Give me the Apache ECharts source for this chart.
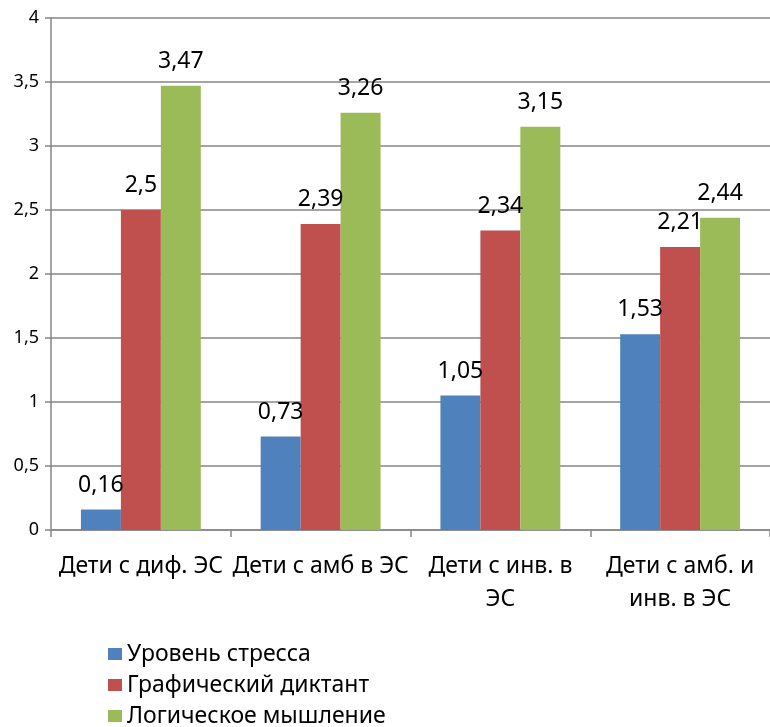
<!DOCTYPE html>
<html>
<head>
<meta charset="utf-8">
<script src="https://cdn.jsdelivr.net/npm/echarts@6/dist/echarts.min.js"></script>
<style>
html,body{margin:0;padding:0;background:#fff;}
#chart{width:770px;height:727px;}
</style>
</head>
<body>
<div id="chart"></div>
<script>
const categories = ['Дети с диф. ЭС', 'Дети с амб в ЭС', 'Дети с инв. в\nЭС', 'Дети с амб. и\nинв. в ЭС'];
const seriesNames = ['Уровень стресса', 'Графический диктант', 'Логическое мышление'];
const stress = [0.16, 0.73, 1.05, 1.53];
const dictation = [2.5, 2.39, 2.34, 2.21];
const logic = [3.47, 3.26, 3.15, 2.44];
const colors = ['#4F81BD', '#C0504D', '#9BBB59'];

const FONT = '"Noto Sans", sans-serif';
const fmt = v => String(v).replace('.', ',');

const chart = echarts.init(document.getElementById('chart'), null, {renderer: 'canvas'});
const mk = (name, data, color) => ({
  name: name,
  type: 'bar',
  data: data,
  barGap: '0%',
  barCategoryGap: '33.3%',
  itemStyle: {color: color},
  label: {
    show: true,
    position: 'top',
    distance: 13,
    fontFamily: FONT,
    fontSize: 23,
    color: '#000',
    formatter: p => fmt(p.value)
  }
});
chart.setOption({
  animation: false,
  backgroundColor: '#fff',
  textStyle: {fontFamily: FONT},
  grid: {left: 51, top: 18, width: 720, height: 512, containLabel: false},
  legend: {
    orient: 'vertical',
    left: 108,
    top: 642,
    height: 100,
    padding: 0,
    itemWidth: 14,
    itemHeight: 12,
    itemGap: 7,
    icon: 'rect',
    textStyle: {fontFamily: FONT, fontSize: 23, lineHeight: 24, color: '#000', padding: [0, 0, 0, 0]},
    data: seriesNames
  },
  xAxis: {
    type: 'category',
    data: categories,
    axisLine: {lineStyle: {color: '#868686', width: 1.5}},
    axisTick: {show: true, length: 7, lineStyle: {color: '#868686', width: 1.5}},
    axisLabel: {
      fontFamily: FONT,
      fontSize: 23,
      color: '#000',
      margin: 20,
      lineHeight: 33,
      interval: 0
    }
  },
  yAxis: {
    type: 'value',
    min: 0,
    max: 4,
    interval: 0.5,
    axisLine: {show: true, lineStyle: {color: '#868686', width: 1.5}},
    axisTick: {show: true, length: 6, lineStyle: {color: '#868686', width: 1.5}},
    splitLine: {show: true, lineStyle: {color: '#868686', width: 1.5}},
    axisLabel: {
      fontFamily: FONT,
      fontSize: 18,
      color: '#000',
      margin: 12,
      formatter: v => fmt(v)
    }
  },
  series: [
    mk(seriesNames[0], stress, colors[0]),
    mk(seriesNames[1], dictation, colors[1]),
    mk(seriesNames[2], logic, colors[2])
  ]
});
</script>
</body>
</html>
